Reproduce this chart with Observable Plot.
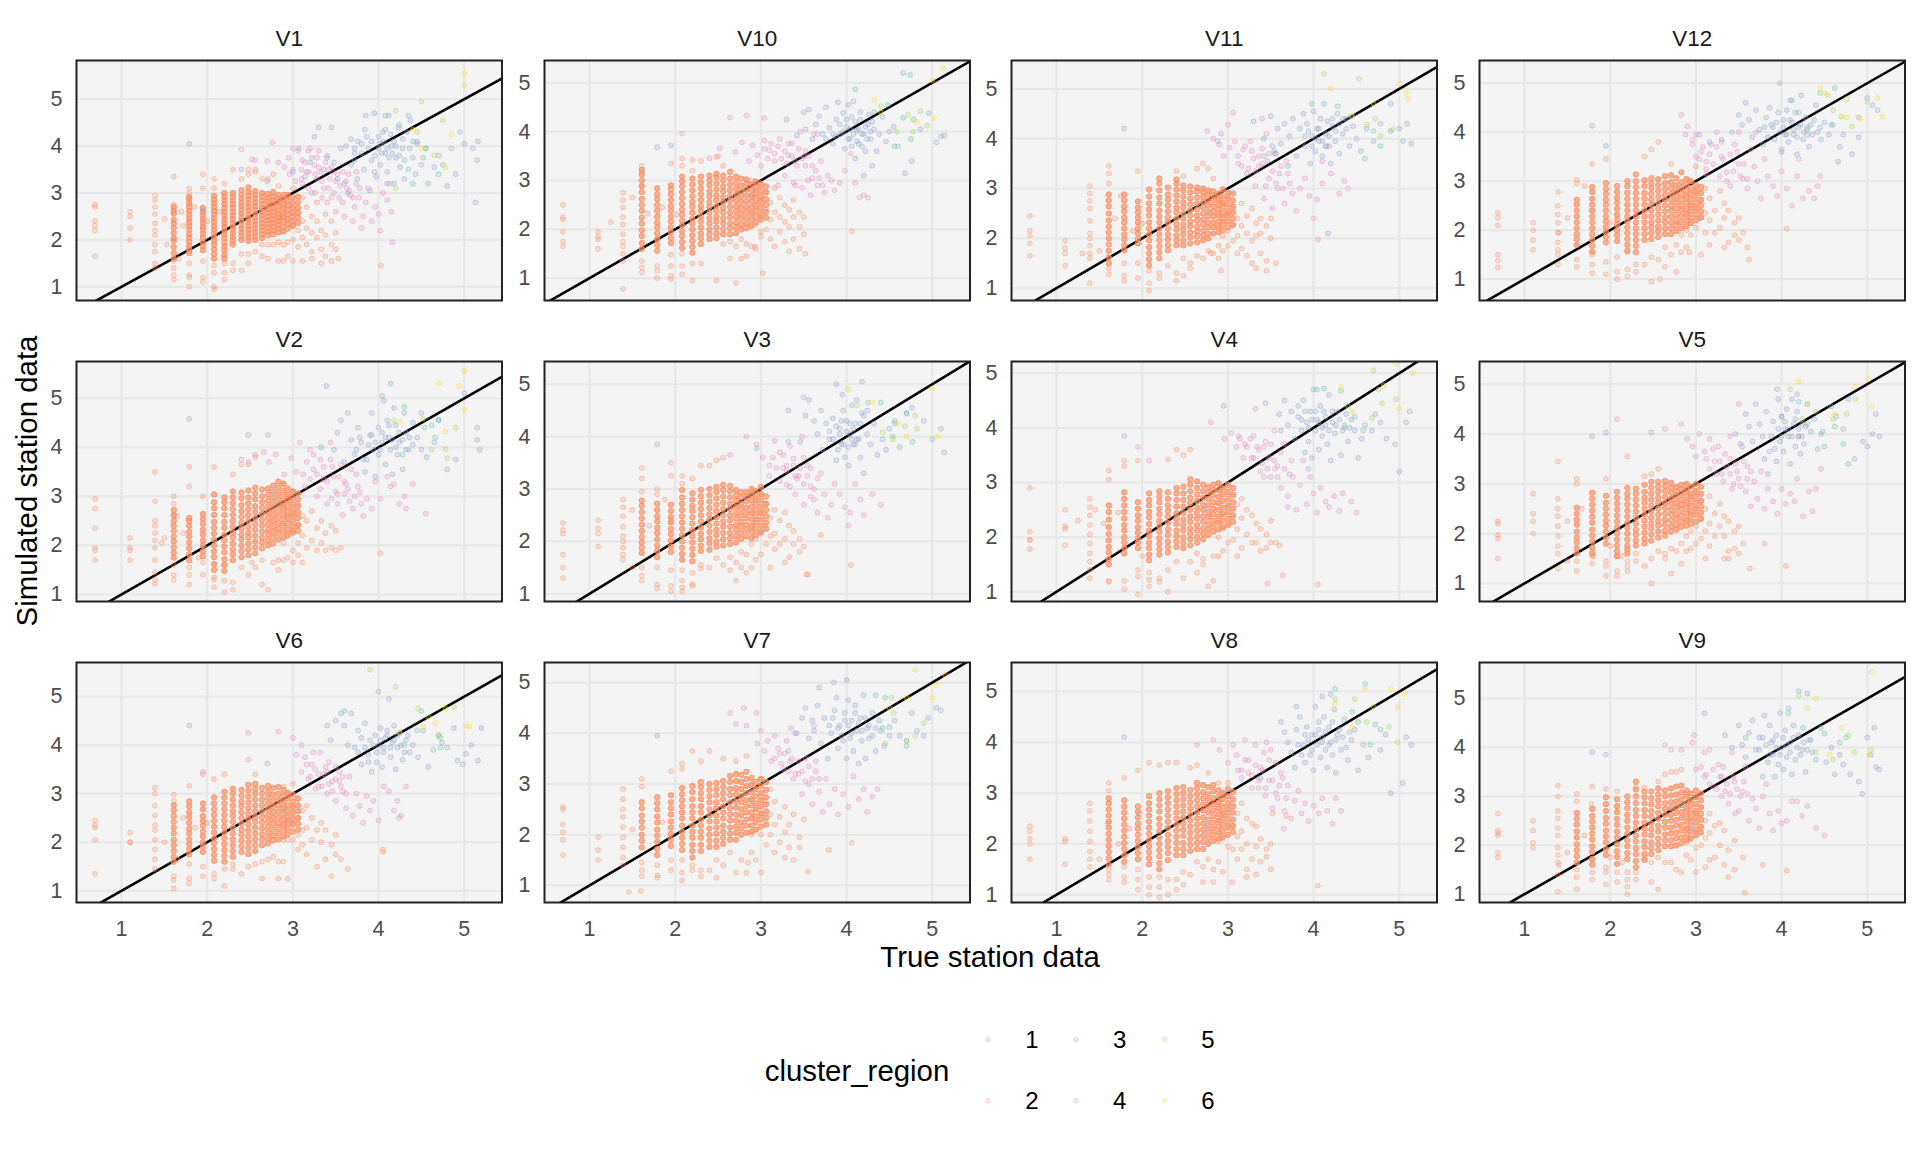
<!DOCTYPE html>
<html><head><meta charset="utf-8">
<script src="https://cdn.jsdelivr.net/npm/d3@7"></script>
<script src="https://cdn.jsdelivr.net/npm/@observablehq/plot@0.6"></script>
<style>html,body{margin:0;background:#fff}#c{position:relative;width:1920px;height:1152px;overflow:hidden;font-family:"Liberation Sans",Arial,sans-serif}
#c svg{position:absolute}.t{position:absolute;white-space:nowrap;color:#000}</style></head><body><div id="c"></div>
<script>
// all station values are hundredths
const columnsCore=[161,179,195,208,220,230,240,248,256,264,271,277,283,289,294,300,306];
const V1_core=[[160,172,185,198,204,215,226,235,243,256,262,270],[172,180,188,196,205,212,222,230,238,246,254,262,270,278,286,292],[178,186,195,204,213,222,228,236,244,252,260,268],[160,170,180,190,198,206,214,222,230,238,246,254,262,270,278,286,294],[160,168,178,186,194,204,212,220,228,236,244,252,260,268,276,284,292,300],[190,198,206,214,222,228,236,244,252,260,268,276,284,292,300],[200,208,216,224,232,240,248,256,264,272,280,288,296,306],[198,206,214,222,230,238,246,254,262,270,278,286,294,302,312],[200,208,216,224,232,240,248,256,264,272,280,288,296,304],[204,212,220,228,236,244,252,260,268,276,284,292,300],[210,218,226,234,242,250,258,266,274,282,290,298],[212,220,228,236,244,252,260,268,276,284,292,302],[216,224,232,240,248,256,264,272,280,288,296],[218,228,238,248,256,266,276,286,296],[224,234,244,254,264,274,284,296],[230,240,250,258,268,278,290],[236,248,258,268,280,292]];
const V1_c2=[69,275,69,270,69,240,69,230,69,220,69,165,110,260,110,250,110,225,110,200,139,295,139,285,139,270,139,255,139,235,139,220,139,210,139,190,139,175,139,150,139,140,161,335,161,275,161,155,161,140,161,125,161,115,179,310,179,300,179,150,179,125,179,120,179,100,195,340,195,310,195,155,195,120,195,110,208,330,208,310,208,145,208,130,208,100,208,95,220,320,220,150,220,130,220,115,230,350,230,135,230,150,240,330,240,170,240,135,248,350,248,340,248,170,248,150,256,350,256,345,256,175,264,330,264,190,264,165,271,330,271,190,271,160,277,340,277,190,283,315,283,195,283,155,150,245,170,260,172,230,153,190,167,160,185,270,200,240,214,260,289,290,289,250,289,220,289,190,289,155,294,290,294,240,294,195,294,165,300,310,300,270,300,230,300,200,300,155,306,260,306,220,306,185,311,290,311,240,311,205,311,155,316,270,316,225,316,190,322,250,322,215,322,175,322,160,328,280,328,240,328,205,333,220,333,180,333,150,338,255,338,210,338,165,345,240,345,190,345,155,350,215,350,180,353,160,403,145,290,270,285,245];
const V1_c4=[240,393,252,372,256,370,270,368,276,408,283,365,290,355,295,375,300,350,303,325,306,390,311,370,311,320,316,345,320,395,322,300,325,360,328,330,330,390,332,345,336,310,340,380,340,280,343,330,345,355,348,300,350,260,352,340,355,315,358,280,360,250,363,310,365,340,367,295,370,240,372,270,374,320,377,290,380,225,382,250,385,280,388,310,392,240,396,270,400,255,402,220,405,300,410,285,413,320,415,260,296,340,300,395,310,330,318,345,326,300,334,290,345,290,416,195,310,350,314,365,318,310,322,375,326,340,330,355,334,325,338,365,342,310,346,345,350,325,354,290,358,345,362,325,366,305,370,290,374,345,378,310,342,350,328,375,318,390];
const V1_c3=[179,405,195,262,240,350,270,325,300,345,307,395,314,335,320,365,325,420,330,440,336,350,340,375,345,440,348,365,352,330,356,395,360,320,364,300,368,360,372,385,375,330,380,405,383,350,386,420,390,305,392,370,395,470,397,335,400,395,402,360,405,430,408,385,410,345,412,465,415,400,418,320,420,375,423,440,425,355,428,395,430,330,433,430,437,455,440,375,443,340,445,405,450,360,455,395,458,320,465,355,470,380,475,360,480,315,485,395,490,340,495,430,500,405,510,395,513,280,516,410,515,370,385,465,372,395,395,345,410,320,435,465,445,410,372,370,376,410,380,385,384,435,388,395,392,410,396,380,400,420,402,405,404,385,406,410,408,435,410,395,412,375,414,425,416,385,418,410,420,400,424,380,428,415,368,415,362,400,436,395,440,410];
const V1_c1=[452,375,408,465,430,370,424,445,455,395,440,320,470,340,435,350];
const V1_c5=[420,475,450,495,445,430,465,380,475,455,420,310];
const V1_c6=[500,555,500,530,478,355,450,395,485,425,440,435];

const V10_core=[[160,172,186,198,212,224,238,250,262,276,288,300,312,322],[156,168,180,192,204,214,226,238,250,262,272,284],[172,182,194,204,216,226,238,248,260,272,282,290],[162,174,186,196,208,218,230,240,252,264,276,288,298,308],[152,164,176,188,200,212,222,234,246,256,268,280,292,304],[170,182,192,204,216,226,238,248,260,272,284,296,308],[180,190,200,212,222,234,246,256,268,278,290,300,310],[182,192,204,216,226,238,248,260,270,282,294,306,314],[190,200,212,222,234,244,256,266,278,288,300,310],[190,202,212,224,234,246,258,268,280,292,304,318],[192,204,214,226,238,248,260,272,284,296,308],[200,210,222,232,244,256,268,278,290,304],[202,212,224,236,246,258,270,282,294,302],[208,220,232,244,256,268,280,292],[214,226,238,250,262,274,286,298],[220,232,244,256,268,280,292],[224,236,250,262,276,288]];
const V10_c2=[69,250,69,225,69,220,69,195,69,175,69,165,110,195,110,185,110,180,110,160,139,275,139,260,139,245,139,225,139,210,139,190,139,175,139,165,139,150,139,135,139,78,161,330,161,318,161,290,161,135,161,122,161,112,179,180,179,125,179,115,179,100,195,335,195,148,195,125,195,105,195,98,208,345,208,330,208,150,208,125,208,108,220,342,220,320,220,130,220,95,230,340,230,130,248,348,248,95,256,330,256,170,264,175,264,140,271,165,271,90,277,180,277,140,283,170,283,145,125,215,150,265,168,232,185,245,202,230,289,300,289,265,289,235,289,205,289,165,294,280,294,245,294,210,294,160,300,295,300,260,300,225,300,195,300,185,306,275,306,240,306,200,311,255,311,220,311,180,316,285,316,235,316,165,322,265,322,225,322,195,328,250,328,215,328,175,333,240,333,205,333,155,338,260,338,225,338,180,345,235,345,205,345,160,350,225,350,190,352,150,406,196,302,110,293,165];
const V10_c4=[208,396,264,429,283,433,304,428,240,345,250,350,252,366,270,358,278,378,286,340,290,372,296,352,300,330,304,382,310,362,316,340,320,290,322,385,328,310,332,352,336,376,338,296,342,330,346,400,348,285,352,360,355,300,358,270,360,330,362,395,366,290,370,340,374,275,378,310,382,300,386,280,392,295,398,320,405,355,410,295,415,265,420,270,425,265,330,335,340,290,350,350,366,395,304,365,308,345,312,375,316,355,320,370,324,345,328,360,332,375,336,350,340,340,344,365,348,345,352,330,356,350,360,305,364,320,368,305,372,290];
const V10_c3=[179,368,195,372,330,425,342,392,350,440,352,405,356,445,360,385,364,415,368,432,372,395,376,450,380,408,384,375,388,425,390,460,392,395,396,438,398,365,400,410,402,455,404,385,406,430,408,462,410,345,412,402,414,375,416,440,418,395,420,310,422,360,425,415,428,385,430,330,432,405,435,360,438,395,442,430,446,380,450,400,455,410,460,370,468,315,476,340,486,405,496,438,505,378,510,390,514,392,466,520,384,395,388,390,392,415,396,400,400,425,402,385,404,405,406,370,408,395,410,420,412,380,414,405,416,425,418,370,420,395,422,410,424,385,426,435,428,400,430,420,376,385];
const V10_c1=[410,487,474,516,432,440,448,455,456,370,466,428,475,385,478,425];
const V10_c5=[440,452,458,400,472,435,486,442,494,412,478,400];
const V10_c6=[432,465,482,420,500,505,502,428,512,530,440,440];

const V11_core=[[150,162,175,188,200,212,224,236,250,264,276,288],[176,186,198,208,220,232,242,254,264,276,288],[190,200,210,220,232,242,252,262,274],[146,158,170,182,196,208,220,232,246,258,270,284,298],[160,172,184,196,208,220,232,244,256,270,282,296,310,320],[176,186,198,208,220,232,242,254,266,278,288,302],[186,196,206,218,228,240,252,262,274,286,298,310,318],[186,196,208,218,228,240,250,262,272,284,296,306],[190,202,212,224,234,246,256,268,280,292,304],[192,204,214,224,236,246,258,270,282,294,302],[196,206,216,228,238,250,262,272,282,292,300],[200,210,222,232,244,254,266,276,288,296],[210,222,232,244,254,264,276,286,294],[212,224,234,246,258,268,278,290],[216,228,240,250,262,272,284,298],[222,234,246,256,268,280,292],[228,240,252,264,276,290]];
const V11_c2=[69,245,69,215,69,205,69,190,69,165,110,195,110,180,110,170,110,145,139,305,139,290,139,275,139,260,139,235,139,210,139,200,139,185,139,170,139,160,139,110,161,345,161,330,161,310,161,140,161,128,179,150,179,125,179,115,195,335,195,150,195,120,208,135,208,110,208,95,220,130,220,120,230,145,240,335,240,130,240,115,248,325,248,160,248,125,256,150,256,140,264,340,264,165,271,350,271,160,277,340,277,175,283,320,283,170,130,170,150,175,168,240,175,285,189,215,200,230,289,280,289,250,289,220,289,185,289,160,294,270,294,235,294,205,294,175,300,285,300,250,300,215,300,185,306,260,306,225,306,195,311,240,311,205,311,170,316,270,316,225,316,180,322,245,322,210,322,165,328,260,328,195,328,150,333,230,333,205,333,140,338,240,338,210,338,170,345,225,345,155,345,135,350,240,350,200,356,150,405,198,292,135,280,170];
const V11_c4=[276,415,283,400,290,388,295,365,302,382,308,394,312,350,318,378,322,330,326,395,330,360,332,305,336,345,340,380,342,280,345,410,348,320,352,260,355,370,358,300,362,345,366,270,370,330,375,290,380,255,384,300,390,320,395,285,400,240,404,278,410,310,415,385,420,330,430,290,436,315,440,300,410,355,292,410,300,428,306,452,340,440,312,365,316,345,320,385,324,340,328,375,332,335,336,365,340,350,344,305,348,370,352,335,356,310,360,330,364,300,368,355,372,310];
const V11_c3=[179,420,288,395,330,435,342,400,350,445,354,375,358,420,362,390,366,430,370,345,372,405,376,440,380,365,384,420,388,450,390,385,392,430,396,350,398,405,400,455,402,375,404,420,406,395,408,440,410,365,412,470,414,410,416,435,418,385,420,350,422,425,425,395,428,450,430,370,434,410,438,440,442,385,446,425,450,400,455,375,462,420,470,395,478,430,490,415,500,420,504,395,509,430,514,390,490,470,417,210,352,385,356,370,390,405,394,415,398,385,402,400,406,420,410,395,414,385,418,405,422,440,426,415,430,430,434,440,438,420,342,365,346,355];
const V11_c1=[398,470,428,465,460,360,470,415,444,445,478,385];
const V11_c5=[412,530,453,520,462,428,472,440,492,418,478,405];
const V11_c6=[420,500,500,510,508,492,510,480,470,470,445,445];

const V12_core=[[170,182,192,204,216,228,240,252,262],[156,168,180,192,204,216,228,240,252,264,278,288],[175,186,196,206,218,228,240,252,262,274,284,296],[178,190,200,212,222,232,244,256,266,278,290],[158,170,182,194,206,218,228,240,252,264,276,290,300],[155,168,180,192,204,216,228,240,252,264,276,288,300,314],[180,192,204,216,228,240,252,264,276,290,302],[182,194,206,216,228,240,252,262,274,286,296,306],[186,198,208,220,232,244,256,268,280,292,304],[192,204,216,226,238,250,262,272,284,296,310],[192,204,216,228,240,250,262,274,286,298,312],[198,210,220,232,244,256,268,280,292,306],[204,216,228,240,250,262,274,286,298,318],[208,220,232,244,256,268,280,292,304],[214,226,238,250,262,274,286,300],[220,232,244,256,268,280,292],[226,238,250,262,276,288]];
const V12_c2=[69,235,69,225,69,210,69,150,69,138,69,124,110,215,110,200,110,180,110,160,139,278,139,250,139,232,139,215,139,195,139,175,139,160,139,150,139,130,161,303,161,295,161,140,161,125,179,335,179,150,179,130,179,112,195,345,195,135,195,110,208,145,208,115,208,100,220,155,220,120,220,105,230,115,230,130,240,350,240,130,248,365,248,145,248,95,256,380,256,140,264,165,264,125,271,335,271,150,277,170,277,115,283,190,283,155,140,195,150,225,170,290,178,240,200,215,289,305,289,270,289,235,289,200,289,165,294,300,294,250,294,215,294,190,300,330,300,280,300,245,300,205,306,260,306,225,306,150,311,285,311,235,311,195,316,265,316,220,316,170,322,240,322,195,328,280,328,205,333,255,333,225,333,165,338,240,338,175,345,215,345,190,350,225,350,180,355,195,360,165,362,140,406,203,292,155,258,100];
const V12_c4=[283,435,290,412,296,385,300,395,306,360,312,340,318,375,324,400,330,350,336,318,340,290,345,375,350,335,355,305,360,285,364,365,368,330,372,300,376,265,380,345,384,310,390,290,395,270,400,320,406,285,412,250,418,310,425,265,432,280,438,265,442,290,445,310,420,345,400,365,370,400,350,400,330,380,312,315,300,350,296,375,288,395,304,345,308,370,312,325,316,355,320,335,324,370,328,310,332,345,336,300,340,355,344,320,348,360,352,310,356,335,360,305];
const V12_c3=[179,413,195,372,304,395,316,380,330,385,342,400,350,435,354,415,358,460,362,425,366,390,370,445,374,405,378,375,382,430,386,450,390,410,392,385,396,440,398,500,400,360,402,425,404,395,406,445,408,380,410,465,412,420,414,395,416,440,418,355,420,410,423,475,425,385,428,430,430,410,432,370,436,395,440,455,445,410,450,420,455,395,460,415,468,370,472,395,482,355,490,430,500,470,506,455,512,445,490,390,466,340,380,410,384,390,388,415,394,420,398,400,402,410,406,395,410,425,414,405,418,390,422,415,426,400,430,395,434,415,438,425,442,400,446,385];
const V12_c1=[412,465,445,480,462,490,430,405,420,440,458,415];
const V12_c5=[454,475,460,445,476,468,500,462,482,412,470,432];
const V12_c6=[445,490,450,480,476,430,512,470,518,432,492,428];

const V2_core=[[175,185,196,208,218,230,240,250,262,272],[170,182,194,206,218,228,240,250,256],[178,188,200,210,222,232,244,254,264],[150,162,176,188,200,212,224,236,248,262,276,288,304],[148,160,172,186,198,210,222,236,248,262,276,288,298],[170,182,192,204,216,226,238,250,262,274,286,298,310],[176,188,200,212,222,234,246,258,270,282,296,308],[180,192,204,216,226,238,250,262,274,286,298,312],[184,196,208,220,232,244,256,268,280,294,306,318],[194,206,216,228,240,252,264,276,288,300,314],[200,210,222,232,244,256,268,280,292,304,316],[204,216,228,238,250,262,274,286,298,310,322],[212,224,234,246,258,270,282,294,306,318,330],[216,228,240,252,264,276,288,300,312,326],[220,232,244,256,268,280,292,304,316],[226,238,250,262,274,286,298,310],[230,242,256,268,280,294,306]];
const V2_c2=[69,295,69,275,69,235,69,195,69,190,69,170,110,215,110,195,110,190,110,170,139,350,139,290,139,250,139,240,139,225,139,210,139,195,139,170,139,145,139,130,139,122,161,300,161,285,161,260,161,130,161,140,161,160,179,360,179,320,179,155,179,140,179,120,195,300,195,165,195,140,208,360,208,130,208,115,208,135,220,128,220,105,220,160,230,345,230,125,230,110,240,365,240,155,248,365,248,140,256,155,256,380,264,170,264,120,271,110,277,165,283,150,283,170,150,215,165,260,172,225,147,205,190,175,289,325,289,280,289,245,289,205,289,170,294,300,294,260,294,225,294,175,300,310,300,265,300,230,300,190,306,285,306,240,306,205,306,180,311,260,311,220,311,165,316,250,316,195,322,270,322,210,328,235,328,190,333,250,333,205,338,225,338,190,345,240,345,195,350,230,350,190,356,195,402,184,252,165,300,165];
const V2_c4=[240,375,248,370,256,385,266,390,272,370,280,385,290,345,298,378,304,350,308,410,314,320,320,395,324,355,328,300,332,375,336,335,340,285,344,410,346,360,350,310,354,340,358,262,362,325,366,290,370,275,374,345,378,308,382,260,386,295,392,275,396,330,402,295,410,340,414,320,418,325,424,285,430,300,432,275,455,265,440,325,345,295,352,285,360,305,312,345,316,370,320,335,324,385,328,345,332,315,336,360,340,330,344,375,348,340,352,305,356,365,360,330,364,315,368,355,372,300,376,320,380,285];
const V2_c3=[179,458,248,425,271,425,339,525,414,530,333,400,348,395,352,430,356,455,360,370,364,470,368,415,372,385,376,440,380,410,384,350,386,375,390,425,392,470,394,395,396,340,400,440,402,395,404,410,406,495,408,365,410,455,412,420,414,395,416,345,418,480,420,445,422,385,424,410,428,355,430,470,432,430,435,395,440,450,445,420,450,395,456,380,465,410,470,455,480,355,490,375,500,510,515,415,518,395,515,440,450,470,404,505,374,395,378,420,382,375,388,405,392,425,396,410,400,385,404,430,408,420,412,445,416,415,420,400,424,430,428,415,432,395,436,420,440,405];
const V2_c1=[430,482,454,440,462,445,466,420,470,456,428,385];
const V2_c5=[418,455,480,378,478,396,490,440,452,458,462,395];
const V2_c6=[500,556,500,477,494,525,470,530,425,452,478,432];

const V3_core=[[178,188,198,208,220,232,244,256,268,278],[170,182,192,204,216,226,238,248,260,272],[180,190,202,214,224,236,246,258,270],[165,176,188,200,212,224,236,248,260,272,284,298],[162,174,186,198,210,222,234,246,258,268,280,292],[182,192,204,214,226,238,250,262,274,286,298],[184,196,206,218,230,242,252,264,276,288,300],[190,200,212,222,234,246,258,270,282,294,304],[192,204,216,228,238,250,262,274,286,298,308],[195,206,216,228,240,250,262,272,284,296,306],[198,210,222,232,244,254,266,278,288,298],[205,216,228,238,250,262,272,284,294],[210,222,232,244,254,264,276,286,294],[206,218,230,242,254,266,278,290,300],[212,224,236,248,260,272,284,296],[218,230,242,254,266,278,290,304],[224,236,248,260,272,286]];
const V3_c2=[69,235,69,222,69,215,69,175,69,150,69,130,110,240,110,225,110,215,110,190,139,280,139,265,139,248,139,228,139,210,139,200,139,188,139,175,139,165,161,340,161,320,161,295,161,150,161,135,161,125,179,290,179,300,179,150,179,118,179,110,195,350,195,325,195,145,195,115,195,105,208,325,208,310,208,145,208,125,208,112,208,105,220,320,220,140,220,115,220,118,230,345,230,155,230,148,240,345,240,150,248,355,248,168,256,360,256,155,264,170,264,145,271,160,271,125,277,180,277,150,283,175,283,140,150,260,170,230,150,150,188,280,195,240,289,295,289,255,289,225,289,195,289,150,294,280,294,240,294,205,294,165,300,290,300,255,300,215,300,175,306,270,306,230,306,195,311,245,311,210,311,150,316,260,316,215,316,185,322,240,322,195,328,255,328,205,328,160,333,230,333,170,338,220,338,195,345,205,345,180,350,190,355,137,405,155,353,137,370,212];
const V3_c4=[264,365,283,400,295,385,302,360,310,345,316,392,322,370,326,340,330,308,334,382,338,358,340,290,344,325,348,400,350,270,354,345,358,305,362,280,366,255,370,330,374,290,378,245,382,270,386,310,392,290,398,265,402,230,404,255,410,310,416,280,420,250,430,290,440,270,330,345,340,325,350,360,358,285,310,325,314,360,318,340,322,315,326,365,330,335,334,305,338,345,342,320,346,340,350,310,354,325,358,340,362,300,366,320];
const V3_c3=[179,385,295,378,332,390,346,390,352,440,356,470,362,430,366,405,370,450,372,375,376,425,380,395,384,435,388,355,392,415,394,385,396,450,398,360,400,430,402,345,404,405,406,460,408,385,410,425,412,470,414,395,416,360,418,445,420,330,424,405,428,385,432,425,436,365,442,395,446,375,450,415,456,425,462,380,470,445,476,455,490,430,500,395,510,415,514,370,418,505,388,500,395,480,332,450,350,475,380,410,384,395,388,420,392,405,396,385,400,410,404,425,408,415,412,395,416,425,420,440,424,450,402,380,406,395,410,385,394,430,390,375];
const V3_c1=[425,465,440,465,456,430,470,444,477,390,454,400];
const V3_c5=[412,460,468,420,480,440,482,415,454,395,442,408];
const V3_c6=[402,490,500,492,506,400,470,400,430,465,460,425];

const V4_core=[[150,160,172,182,194,206,218,232,246,258],[170,180,190,200,212,222,234,246,258,270,282],[180,190,198,208,218,230,240,252,264],[158,168,180,190,202,212,224,236,246,258,268,280],[168,178,188,198,210,220,230,242,252,264,274,284],[172,182,192,204,214,226,238,248,258,270,282],[182,192,202,212,224,234,244,256,268,280,290],[180,190,200,212,222,232,244,256,268,280,292],[185,196,206,216,228,238,250,262,272,284,296,306],[190,200,212,222,234,244,254,266,278,290,302],[196,206,216,228,238,250,260,272,284,296],[204,214,224,236,246,258,270,282,292],[210,220,230,242,252,264,276,286,296],[214,226,238,250,262,274,286,298],[218,230,242,254,266,278,290],[222,234,246,258,270,282,296],[228,240,252,264,278,290]];
const V4_c2=[69,290,69,210,69,195,69,195,69,178,110,250,110,220,110,215,110,185,139,270,139,255,139,240,139,222,139,205,139,188,139,170,139,155,139,140,139,125,161,322,161,305,161,118,161,120,179,340,179,330,179,120,179,105,195,340,195,140,195,128,195,95,208,110,208,122,208,135,220,125,220,118,230,342,230,140,230,100,240,360,240,155,248,350,248,125,256,155,256,360,264,170,264,135,271,150,271,160,277,110,283,165,283,120,125,230,145,250,172,245,155,225,200,165,289,300,289,265,289,230,289,200,289,165,294,285,294,245,294,215,294,175,300,290,300,255,300,225,300,190,306,275,306,235,306,195,311,260,311,215,311,165,316,270,316,235,316,180,322,250,322,205,328,240,328,190,333,225,333,190,338,215,338,175,345,205,345,180,350,230,350,190,356,190,360,185,405,113,364,130,346,115];
const V4_c4=[195,365,208,340,280,410,332,435,330,385,336,360,340,335,344,375,348,345,350,310,354,395,358,330,362,290,366,370,370,275,374,340,376,310,380,250,384,295,388,340,392,260,396,310,400,280,404,245,408,290,414,265,418,255,424,275,430,248,434,280,444,265,450,245,355,325,342,310,370,255,328,345,320,370,312,385,304,390,296,380,310,365,314,380,318,345,322,365,326,380,330,345,334,365,338,320,342,365,346,325,350,370,354,340,358,310,362,355,366,325];
const V4_c3=[179,385,295,440,344,445,360,425,362,395,366,450,370,405,374,430,378,380,382,420,386,395,388,450,390,355,392,410,394,375,396,430,398,345,400,470,402,395,404,415,406,360,408,440,410,385,412,430,414,405,416,370,418,460,420,340,422,410,425,390,428,430,432,350,436,400,440,375,444,415,448,395,452,345,456,380,460,405,468,395,472,425,478,410,485,380,495,370,500,320,508,410,512,430,394,325,372,315,382,440,386,415,390,430,394,400,398,415,402,430,406,410,410,400,414,420,418,395,422,430,426,405,430,415,434,395,438,425,442,400];
const V4_c1=[404,470,412,472,432,468,436,405,448,420,458,395];
const V4_c5=[470,505,476,470,480,445,496,452,440,440,468,418];
const V4_c6=[496,517,516,500,482,478,500,435,432,475,445,430];

const V5_core=[[160,170,182,192,204,218,228,240,252],[160,172,184,196,208,222,234,246,258,270,282],[180,192,204,216,226,238,250,262,276],[155,165,176,188,200,212,224,236,248,260,272,284],[160,168,176,188,200,212,222,234,246,258,270,280,292],[176,186,198,208,220,232,244,256,268,280,290],[180,190,202,214,226,238,250,262,272,284,298],[186,198,210,220,232,244,256,268,280,292,304],[192,204,216,226,238,250,262,272,284,294,304],[196,206,218,228,240,252,262,274,286,296,306],[204,214,226,238,248,260,270,282,292,302],[208,218,230,240,252,262,274,284,294],[214,224,236,248,258,268,280,290,298],[216,228,240,252,264,276,288,300],[220,232,244,256,268,280,294],[224,238,250,262,274,286,300],[230,242,254,266,280,294]];
const V5_c2=[69,225,69,220,69,197,69,190,69,150,110,280,110,240,110,225,110,200,139,345,139,270,139,250,139,235,139,215,139,195,139,175,139,160,139,130,161,310,161,300,161,145,161,125,179,140,179,155,179,165,195,310,195,145,195,135,195,115,208,155,208,115,208,125,220,355,220,135,220,145,220,125,230,160,230,145,240,315,240,135,248,320,248,150,248,100,256,330,256,165,264,160,264,150,271,170,271,120,277,165,283,180,283,140,150,225,167,250,180,155,150,145,200,175,214,155,289,290,289,260,289,225,289,195,289,165,294,275,294,240,294,205,294,170,300,285,300,250,300,215,300,180,306,265,306,230,306,190,311,250,311,205,311,150,316,275,316,220,316,175,322,240,322,195,328,260,328,215,333,235,333,195,333,150,338,225,338,165,345,205,345,170,350,215,350,160,355,180,380,180,405,135,338,150,363,130];
const V5_c4=[208,430,264,410,283,420,290,390,296,375,300,355,304,400,310,365,316,390,322,345,326,375,330,320,334,360,340,395,342,290,346,340,350,310,354,375,358,285,360,335,364,255,368,305,372,270,376,325,380,250,384,290,390,265,395,240,400,290,405,260,410,280,415,265,418,310,425,235,432,285,436,245,440,290,446,330,420,395,350,460,340,350,312,350,316,330,320,370,324,320,328,345,332,305,336,335,340,320,344,300,348,325,352,295,356,345,360,310,364,325];
const V5_c3=[179,395,195,403,248,403,346,400,352,380,358,440,362,415,366,385,370,460,374,420,378,395,382,445,386,365,390,425,394,345,396,470,398,385,400,435,402,365,404,410,406,450,408,395,410,340,412,470,414,420,416,375,418,445,420,395,422,360,424,420,426,380,430,460,434,405,438,430,442,370,446,400,450,375,458,455,464,435,472,410,478,470,485,350,495,385,500,375,506,400,514,395,510,440,418,480,395,490,380,350,384,320,388,395,392,370,396,410,400,395,404,425,408,410,412,395,416,430,420,410,424,395,428,415,400,435];
const V5_c1=[420,465,430,420,448,405,462,415,472,380,478,340];
const V5_c5=[410,490,476,440,460,430,486,470,440,445,424,430];
const V5_c6=[420,505,486,495,501,510,505,455,462,440,430,460];

const V6_core=[[160,170,182,194,205,218,230,242,254,266,276],[175,186,196,206,218,228,240,252,262,274,284],[180,190,200,212,222,234,244,254,268,280],[162,174,186,198,208,220,232,244,256,268,280,292],[160,172,184,196,208,220,232,244,256,268,280,292,304],[170,182,194,206,218,230,242,254,264,276,288,300,310],[180,192,204,216,226,238,250,262,274,284,296,308],[176,188,200,212,224,236,248,258,270,282,294,306,318],[182,194,206,218,230,242,252,264,276,288,300,310,320],[194,206,216,228,240,252,264,276,288,300,312],[198,208,220,232,244,256,268,280,292,304,316],[204,214,226,238,250,262,274,286,298,312],[206,218,230,240,252,264,276,288,300,314],[212,224,236,248,260,272,284,296,308],[216,228,240,252,264,276,290,302],[222,236,248,260,272,284,298],[226,238,250,264,276,290]];
const V6_c2=[69,245,69,235,69,230,69,205,69,135,110,220,110,200,110,200,139,312,139,300,139,275,139,255,139,235,139,225,139,205,139,185,139,165,139,145,161,298,161,285,161,130,161,105,161,122,179,316,179,155,179,115,179,125,195,340,195,150,195,130,208,330,208,125,208,135,220,340,220,145,220,110,230,145,230,155,240,135,248,150,256,155,256,340,264,160,264,125,271,165,277,170,283,160,283,125,150,200,165,165,172,250,186,230,200,240,289,315,289,270,289,235,289,205,289,160,294,300,294,245,294,205,294,125,300,320,300,275,300,240,300,205,306,290,306,250,306,215,306,185,311,265,311,225,311,195,316,275,316,230,316,175,322,250,322,205,328,225,328,150,333,240,333,200,338,225,338,165,345,195,345,130,350,215,350,175,356,165,405,185,405,180,364,145];
const V6_c4=[195,345,248,425,248,370,283,428,300,415,304,380,310,400,316,360,320,335,324,385,326,350,330,315,332,385,336,340,340,300,342,365,346,325,350,285,354,345,358,305,362,270,366,335,370,255,374,300,378,275,382,240,386,295,390,265,394,285,400,245,406,315,412,305,418,265,422,285,424,250,426,255,432,315,350,330,340,345,356,315,310,345,314,375,318,330,322,360,326,310,330,340,334,315,338,355,342,320,346,305,350,355,354,325,358,335,362,300];
const V6_c3=[179,440,270,362,340,440,344,410,350,450,356,465,360,440,364,400,368,465,372,395,376,430,380,360,384,445,388,380,390,410,392,345,396,420,398,365,400,400,402,435,404,355,406,385,408,415,410,430,412,495,414,375,416,405,418,440,420,350,422,395,425,425,428,370,432,410,436,385,440,400,446,375,452,430,458,355,464,390,470,420,474,405,480,395,488,435,492,368,498,360,502,382,508,400,516,368,520,435,400,510,376,385,380,415,384,395,388,365,394,400,398,385,402,410,406,395,410,420,414,395,418,410,422,420,426,400,430,385,434,420];
const V6_c1=[360,470,430,400,445,430,450,470,472,415,472,395];
const V6_c5=[390,555,420,520,446,475,458,458,470,420,488,478];
const V6_c6=[424,425,452,438,478,475,502,440,506,438,466,445];

const V7_core=[[175,188,200,214,226,238,252,264],[160,172,186,198,210,224,236,250,262,274],[178,190,202,214,226,240,252,264,278],[170,182,194,206,218,232,244,256,268,280,292],[155,168,180,194,206,218,232,244,256,270,284,296],[168,180,194,206,218,230,244,256,270,282,294,304],[176,188,200,212,226,238,250,264,276,288,300],[176,188,202,214,226,238,252,264,278,290,302],[182,194,206,218,232,244,256,270,282,294,306],[190,202,214,228,240,252,264,278,290,304,316],[190,204,216,228,240,254,266,280,292,306,320],[200,212,224,238,250,264,276,290,304,318],[204,218,230,244,256,268,282,296,310,324],[206,218,232,244,258,270,284,298,312],[210,224,236,250,262,276,290,304],[216,230,242,256,268,282,296,310],[220,234,246,260,274,288,304]];
const V7_c2=[69,255,69,250,69,220,69,205,69,190,69,160,110,195,110,170,110,150,139,290,139,270,139,250,139,235,139,215,139,195,139,175,139,155,139,140,161,310,161,295,161,145,161,130,161,118,179,140,179,120,179,115,195,325,195,150,195,130,208,330,208,340,208,110,208,125,208,150,220,365,220,130,220,140,230,345,230,130,230,118,240,365,240,130,248,150,248,115,256,350,256,140,264,165,271,345,271,125,277,150,283,355,283,125,146,87,160,89,150,210,185,225,289,300,289,270,289,235,289,200,289,165,294,290,294,250,294,210,294,150,300,310,300,275,300,240,300,200,306,265,306,225,306,180,311,290,311,240,311,200,316,265,316,220,316,165,322,235,322,185,328,255,328,205,328,155,333,220,333,175,338,240,338,150,345,195,345,175,350,230,355,127,379,170,406,184,300,125,285,145];
const V7_c4=[264,440,271,418,283,415,296,380,300,405,304,365,308,385,312,345,316,395,322,360,326,330,330,385,334,345,338,310,342,400,344,320,348,280,352,350,356,300,360,260,364,325,368,285,372,245,376,310,380,260,386,290,390,240,396,280,402,255,408,315,414,270,420,290,424,245,430,275,436,290,280,450,295,440,335,410,362,415,316,350,320,370,324,340,328,360,332,325,336,350,340,320,344,345,348,325,352,305,356,335,360,310,364,345,368,310];
const V7_c3=[179,395,332,365,340,400,348,430,352,450,356,390,360,425,362,405,366,455,370,380,374,430,378,350,382,400,386,445,388,470,390,370,392,415,396,385,398,440,400,350,402,465,404,390,406,425,408,365,410,455,412,405,414,340,416,430,418,385,420,475,422,350,424,410,426,390,430,440,434,365,440,405,444,375,450,395,456,425,462,395,470,385,476,440,482,405,490,395,495,430,505,450,510,445,400,505,385,500,380,415,384,430,390,410,394,395,398,425,402,415,406,400,410,440,414,420,418,405,422,430,426,415,430,395,434,410,438,425];
const V7_c1=[368,490,434,475,445,470,442,410,450,412,470,375];
const V7_c5=[452,470,455,440,480,395,490,420,470,385,445,380];
const V7_c6=[480,525,505,495,500,470,515,515,470,470,450,450];

const V8_core=[[160,172,184,196,208,220,232,244,256,268,280,290],[165,178,190,202,214,226,238,250,262,274,286],[170,182,194,206,218,230,240,252,264,274],[160,172,184,196,208,220,232,244,256,268,280,294],[150,162,176,188,200,212,226,238,250,264,276,288,300],[168,182,194,206,218,232,244,256,268,280,292,304],[178,190,202,214,226,238,250,262,274,286,298,310],[178,190,202,216,228,240,252,264,276,288,300,312],[186,198,210,222,234,246,258,270,282,294,306],[190,202,214,226,238,250,262,274,286,298,310,320],[190,204,216,228,240,252,266,278,290,302,316],[200,212,224,236,248,262,274,286,298,312],[206,218,230,242,254,266,278,290,304,316],[210,222,234,246,258,270,282,294,306],[214,226,238,250,262,274,288,300],[218,232,244,256,268,280,294,308],[224,236,248,262,274,288,302]];
const V8_c2=[69,235,69,225,69,210,69,200,69,170,110,210,110,205,110,160,139,280,139,265,139,245,139,225,139,205,139,185,139,170,139,155,161,320,161,305,161,150,161,130,161,140,179,330,179,155,179,125,179,135,195,345,195,150,195,130,195,110,208,360,208,135,208,115,208,100,220,355,220,135,220,115,220,95,230,360,230,130,230,100,240,360,240,130,240,110,248,145,248,120,256,350,256,140,264,355,264,165,271,155,271,125,277,340,277,170,283,150,283,125,150,170,160,240,172,200,185,230,196,260,289,320,289,280,289,245,289,205,289,165,294,300,294,260,294,210,294,145,300,320,300,270,300,235,300,195,306,280,306,235,306,190,311,260,311,215,311,170,316,280,316,225,316,190,322,250,322,200,322,150,328,240,328,170,333,235,333,195,333,140,338,210,338,165,345,190,345,175,350,200,350,150,405,118,322,135,305,125,352,260,368,255];
const V8_c4=[264,395,283,405,290,385,300,360,306,395,310,375,316,345,320,405,324,365,328,335,332,395,336,310,338,350,342,380,344,295,348,325,352,270,356,360,358,290,362,340,366,265,370,315,374,250,378,285,382,305,386,260,390,280,394,245,400,275,406,260,410,290,416,265,422,240,426,290,432,265,365,230,350,385,345,400,312,345,316,330,320,365,324,340,328,310,332,355,336,325,340,345,344,310,348,365,352,325,356,300,360,315,364,330,368,290];
const V8_c3=[179,410,338,330,362,440,366,420,370,400,374,380,378,350,380,425,384,450,388,395,390,360,392,430,396,375,398,415,400,345,402,470,404,395,406,440,408,370,410,410,412,450,414,385,416,350,418,430,420,400,422,375,424,465,426,340,428,415,432,385,436,445,440,365,444,405,448,425,452,345,458,395,464,370,472,435,478,385,484,415,490,300,504,320,508,410,514,395,420,495,410,490,380,470,382,395,386,375,390,415,394,405,398,385,402,415,406,425,410,400,414,420,418,395,422,440,426,405,430,425,434,410,438,390,442,420];
const V8_c1=[460,515,425,505,445,460,452,440,466,395,478,425];
const V8_c5=[425,485,448,485,470,470,488,430,498,400,462,440];
const V8_c6=[425,475,460,505,490,505,506,495,498,470,445,430];

const V9_core=[[165,178,190,202,216,228,242,254,266],[160,172,186,198,212,224,236,248,260,274],[180,192,206,218,230,244,256,270,284,298],[162,176,188,202,216,228,242,254,268,280,294],[172,184,198,210,224,236,250,262,276,288,300],[155,168,182,194,208,220,234,246,260,272,286,300,314,330],[170,182,196,208,222,234,246,260,272,286,298,310],[182,194,206,220,232,244,258,270,284,296,310],[190,202,214,228,240,254,266,280,292,304,316],[198,210,222,236,248,262,274,286,300,312],[198,210,224,236,250,262,276,288,302,316],[200,214,226,240,252,266,278,290,304,320],[204,216,230,242,256,268,282,294,308,322],[210,222,234,248,260,274,286,300,312],[214,228,240,254,266,280,292,306],[220,232,246,258,270,284,298,312],[226,238,252,264,278,292,306]];
const V9_c2=[69,265,69,230,69,225,69,220,69,185,69,175,110,250,110,230,110,205,110,195,139,322,139,300,139,270,139,255,139,235,139,220,139,195,139,180,139,165,139,140,139,105,161,305,161,290,161,150,161,135,161,110,179,320,179,145,179,130,179,170,195,315,195,155,195,120,195,145,208,310,208,145,208,125,220,130,220,145,220,115,220,100,230,320,230,130,230,145,240,318,240,175,248,165,248,125,256,330,256,175,256,110,264,345,264,165,271,350,271,165,277,350,277,150,283,355,283,145,140,160,150,185,170,220,178,285,200,175,214,165,289,305,289,270,289,235,289,205,289,180,294,290,294,250,294,215,294,170,300,300,300,265,300,225,300,195,300,145,306,275,306,235,306,200,311,250,311,215,311,155,316,265,316,225,316,170,322,240,322,175,328,245,328,200,333,230,333,160,338,190,338,135,345,210,345,150,355,175,406,148,357,103,378,160];
const V9_c4=[264,405,271,395,283,395,296,410,300,355,306,360,310,340,316,395,320,320,326,365,330,340,334,310,338,285,342,390,345,330,350,270,354,310,358,360,362,250,366,295,370,275,374,235,378,300,382,325,386,265,390,230,396,270,400,245,406,250,412,290,418,290,424,260,430,280,440,235,450,220,298,425,310,390,330,300,346,265,312,345,316,325,320,355,324,315,328,340,332,360,336,325,340,305,344,340,348,315,352,300,356,330,360,305];
const V9_c3=[179,390,195,385,310,470,334,425,342,400,350,445,354,405,358,380,362,430,366,455,370,395,374,420,378,340,380,465,384,370,386,445,388,410,390,385,392,340,394,425,396,365,398,470,400,400,402,355,404,435,406,380,408,480,410,410,412,345,414,445,416,375,420,425,424,395,428,350,432,415,436,390,440,375,446,440,452,370,458,400,462,345,468,385,472,365,480,345,490,330,494,305,504,385,510,360,514,355,508,440,500,420,430,510,420,515,374,395,378,420,382,405,386,385,390,415,394,400,398,385,402,420,406,405,410,390,414,420,418,400,422,385,426,410,430,395,434,415];
const V9_c1=[358,420,408,470,450,428,468,410,475,420,425,440];
const V9_c5=[420,505,440,390,460,375,485,390,504,395,478,425];
const V9_c6=[505,555,502,385,430,480,470,440,456,385,440,500];

const tickValues=[1,2,3,4,5];const xDomain=[0.475,5.44];const diagonal=[0,6];
const names=["V1","V10","V11","V12","V2","V3","V4","V5","V6","V7","V8","V9"];
const yDomains=[[.708,5.825],[.543,5.457],[.753,5.568],[.565,5.463],[.857,5.749],[.853,5.434],[.822,5.214],[.638,5.456],[.76,5.70],[.664,5.395],[.848,5.571],[.83,5.736]];
const coreData=[V1_core,V10_core,V11_core,V12_core,V2_core,V3_core,V4_core,V5_core,V6_core,V7_core,V8_core,V9_core];
const c2Data=[V1_c2,V10_c2,V11_c2,V12_c2,V2_c2,V3_c2,V4_c2,V5_c2,V6_c2,V7_c2,V8_c2,V9_c2];
const c4Data=[V1_c4,V10_c4,V11_c4,V12_c4,V2_c4,V3_c4,V4_c4,V5_c4,V6_c4,V7_c4,V8_c4,V9_c4];
const c3Data=[V1_c3,V10_c3,V11_c3,V12_c3,V2_c3,V3_c3,V4_c3,V5_c3,V6_c3,V7_c3,V8_c3,V9_c3];
const c1Data=[V1_c1,V10_c1,V11_c1,V12_c1,V2_c1,V3_c1,V4_c1,V5_c1,V6_c1,V7_c1,V8_c1,V9_c1];
const c5Data=[V1_c5,V10_c5,V11_c5,V12_c5,V2_c5,V3_c5,V4_c5,V5_c5,V6_c5,V7_c5,V8_c5,V9_c5];
const c6Data=[V1_c6,V10_c6,V11_c6,V12_c6,V2_c6,V3_c6,V4_c6,V5_c6,V6_c6,V7_c6,V8_c6,V9_c6];
const clusters=[1,2,3,4,5,6];const set2=["#66C2A5","#FC8D62","#8DA0CB","#E78AC3","#A6D854","#FFD92F"];
const colLeft=[76,543.7,1011.2,1478.8],rowTop=[60,361.3,662.2];const pw=425.5,ph=240;
const pairs=(f,c)=>{const o=[];for(let i=0;i<f.length;i+=2)o.push({x:f[i]/100,y:f[i+1]/100,c});return o};
const root=document.getElementById("c");
names.forEach((name,i)=>{
 const col=i%4,row=Math.floor(i/4);
 const core=coreData[i].flatMap((ys,k)=>ys.map(y=>({x:columnsCore[k]/100,y:y/100,c:2})));
 const pale=[...pairs(c2Data[i],2),...pairs(c4Data[i],4),...pairs(c3Data[i],3),...pairs(c1Data[i],1),...pairs(c5Data[i],5),...pairs(c6Data[i],6)];
 const ml=60,mt=40,mb=row==2?44:4,mr=6;
 const marks=[Plot.frame({fill:"#F4F4F4",stroke:null}),
  Plot.gridX(tickValues,{stroke:"#E8E8E8",strokeOpacity:1,strokeWidth:2.2}),
  Plot.gridY(tickValues,{stroke:"#E8E8E8",strokeOpacity:1,strokeWidth:2.2}),
  Plot.axisY({ticks:tickValues,tickSize:0,tickPadding:14,tickFormat:"d",fontSize:21.5,fill:"#4D4D4D",label:null}),
  Plot.line(diagonal,{x:d=>d,y:d=>d,stroke:"#000",strokeWidth:2.6,clip:true}),
  Plot.dot(core,{x:"x",y:"y",stroke:"c",fill:"c",r:2.7,strokeWidth:1,fillOpacity:.68,strokeOpacity:.8,clip:true}),
  Plot.dot(pale,{x:"x",y:"y",stroke:"c",fill:"c",r:2.4,strokeWidth:1,fillOpacity:.2,strokeOpacity:.45,clip:true}),
  Plot.frame({stroke:"#222",strokeWidth:2}),
  Plot.text([name],{frameAnchor:"top",dy:-22,text:d=>d,fontSize:22.5,fill:"#1A1A1A",lineAnchor:"middle"})];
 if(row==2)marks.push(Plot.axisX({ticks:tickValues,tickSize:0,tickPadding:18,tickFormat:"d",fontSize:21.5,fill:"#4D4D4D",label:null}));
 const s=Plot.plot({width:pw+ml+mr,height:ph+mt+mb,marginLeft:ml,marginRight:mr,marginTop:mt,marginBottom:mb,
  x:{domain:xDomain,axis:null},y:{domain:yDomains[i],axis:null},color:{domain:clusters,range:set2},
  style:{background:"transparent",fontFamily:"Liberation Sans"},marks});
 s.style.left=(colLeft[col]-ml)+"px";s.style.top=(rowTop[row]-mt)+"px";root.appendChild(s);
});
function label(txt,x,y,size,extra){const d=document.createElement("div");d.className="t";d.textContent=txt;d.style.cssText=`left:${x}px;top:${y}px;font-size:${size}px;transform:translate(-50%,-50%) ${extra||""}`;root.appendChild(d)}
label("True station data",990,957,29.4);
label("Simulated station data",27,481,29.4,"rotate(-90deg)");
label("cluster_region",857,1071,29.4);
const legendDots=[[987.5,1039],[987.5,1100],[1075.4,1039],[1075.4,1100],[1164,1039],[1164,1100]];
const legendText=[[1032,1040],[1032,1101],[1119.6,1040],[1119.6,1101],[1208,1040],[1208,1101]];
const lg=Plot.plot({width:300,height:100,margin:0,x:{domain:[960,1260],axis:null},y:{domain:[1120,1020],axis:null},color:{domain:clusters,range:set2},style:{background:"transparent"},
 marks:[Plot.dot(clusters,{x:c=>legendDots[c-1][0],y:c=>legendDots[c-1][1],fill:c=>c,stroke:c=>c,r:2.2,fillOpacity:.2,strokeOpacity:.2})]});
lg.style.left="960px";lg.style.top="1020px";root.appendChild(lg);
clusters.forEach(c=>label(String(c),legendText[c-1][0],legendText[c-1][1],24));
</script></body></html>
